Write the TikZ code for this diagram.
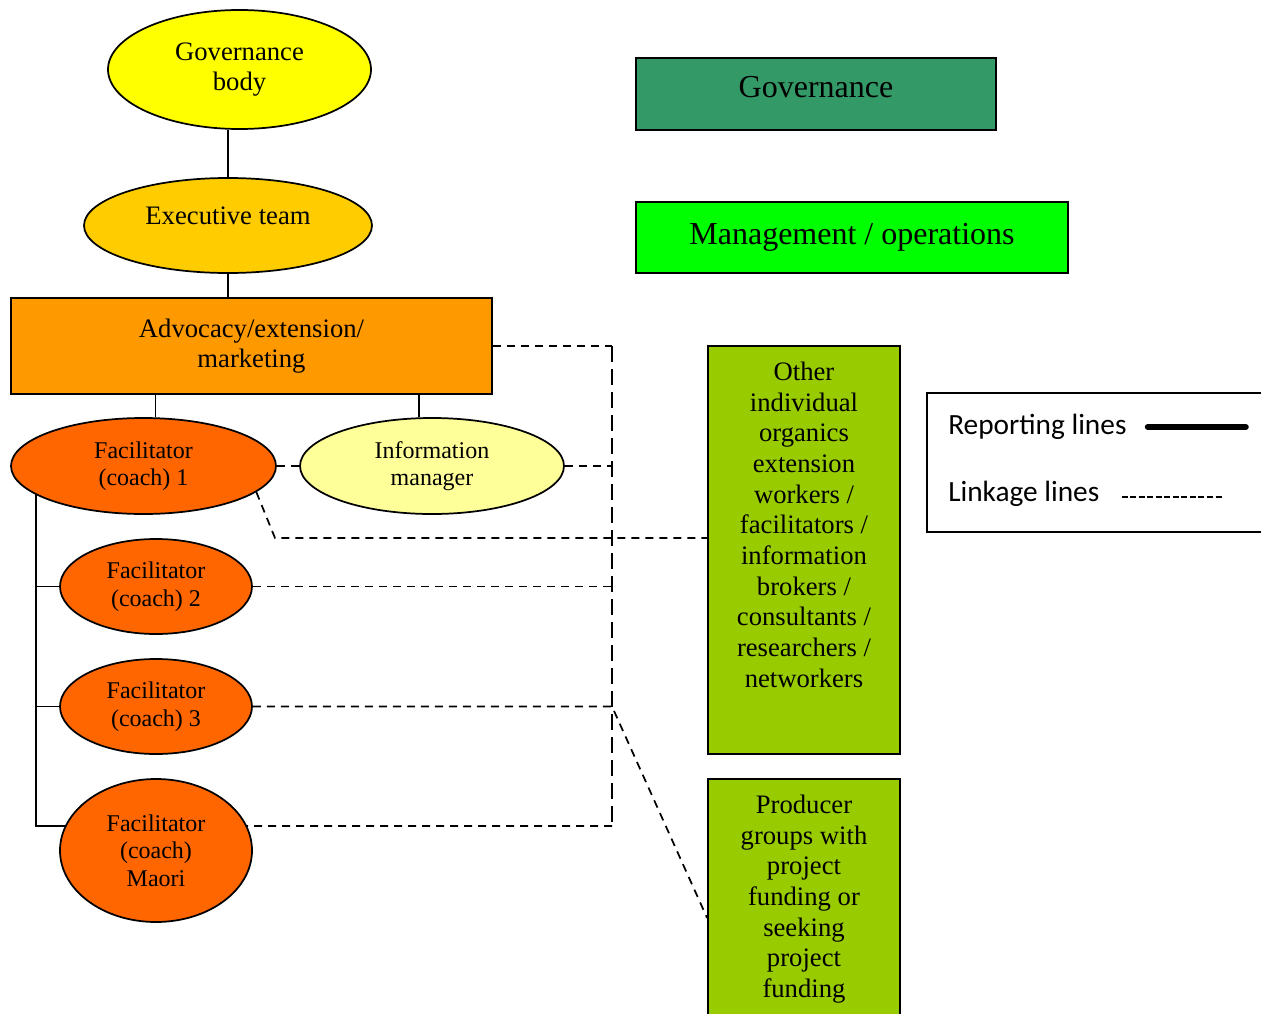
\documentclass[tikz,border=0pt]{standalone}
\usepackage{fontspec}
\setmainfont{Liberation Serif}
\newfontfamily\legendfont{Carlito}
\usetikzlibrary{shapes.geometric}
\definecolor{govyellow}{HTML}{FFFF00}
\definecolor{execgold}{HTML}{FFCC00}
\definecolor{advorange}{HTML}{FF9900}
\definecolor{facorange}{HTML}{FF6600}
\definecolor{infoyellow}{HTML}{FFFF99}
\definecolor{govgreen}{HTML}{339966}
\definecolor{mgmtgreen}{HTML}{00FF00}
\definecolor{olivebox}{HTML}{99CC00}
\tikzset{
  oval/.style={ellipse, draw, line width=1.3pt, inner sep=0pt, align=center},
  unit/.style={rectangle, draw, line width=1.3pt, inner sep=0pt, align=center},
  bigtext/.style={font=\fontsize{20}{23}\selectfont},
  smalltext/.style={font=\fontsize{18}{20.6}\selectfont},
  headtext/.style={font=\fontsize{24}{28}\selectfont},
  legendtext/.style={font=\legendfont\fontsize{22}{26}\selectfont, inner sep=0pt},
  report/.style={line width=1.3pt},
  link/.style={line width=1.3pt, dash pattern=on 6pt off 4.5pt},
  busline/.style={line width=1.3pt, dash pattern=on 12pt off 5.25pt}
}
\begin{document}
\begin{tikzpicture}[x=0.75pt, y=-0.75pt]
      \useasboundingbox (0,0) rectangle (1261,1014);
      \clip (0,0) rectangle (1261,1014);
      \node[oval, fill=govyellow, bigtext, minimum width=197.25pt, minimum height=89.25pt] (gov) at (239.5,69.5) {Governance\\body};
      \node[oval, fill=execgold, bigtext, minimum width=216pt, minimum height=71.25pt] (exec) at (228,225.5) {\raisebox{7pt}[\height][\depth]{Executive team}};
      \node[unit, fill=advorange, bigtext, minimum width=360.75pt, minimum height=72pt] (adv) at (251.5,346) {Advocacy/extension/\\marketing};
      \node[oval, fill=facorange, smalltext, minimum width=198.75pt, minimum height=72pt] (fac1) at (143.5,466) {Facilitator\\(coach) 1};
      \node[oval, fill=infoyellow, smalltext, minimum width=198pt, minimum height=72pt] (info) at (432,466) {Information\\manager};
      \node[oval, fill=facorange, smalltext, minimum width=144pt, minimum height=71.25pt] (fac2) at (156,586.5) {Facilitator\\(coach) 2};
      \node[oval, fill=facorange, smalltext, minimum width=144pt, minimum height=71.25pt] (fac3) at (156,706.5) {Facilitator\\(coach) 3};
      \node[oval, fill=facorange, smalltext, minimum width=144pt, minimum height=107.25pt] (facM) at (156,850.5) {Facilitator\\(coach)\\Maori};
      % key boxes
      \node[unit, fill=govgreen, headtext, minimum width=270pt, minimum height=54pt] (govkey) at (816,94) {\raisebox{5pt}[\height][\depth]{Governance}};
      \node[unit, fill=mgmtgreen, headtext, minimum width=324pt, minimum height=53.25pt] (mgmtkey) at (852,237.5) {Management / operations};
      % outside links
      \node[unit, fill=olivebox, bigtext] (other) at (804,550) {\parbox[c][306pt][t]{144pt}{\centering\vspace*{12pt}Other\\individual\\organics\\extension\\workers /\\facilitators /\\information\\brokers /\\consultants /\\researchers /\\networkers}};
      \node[unit, fill=olivebox, bigtext] (prod) at (804,918) {\parbox[c][208.5pt][t]{144pt}{\centering\vspace*{12pt}Producer\\groups with\\project\\funding or\\seeking\\project\\funding}};
      % legend
      \node[draw, line width=1pt, inner sep=0pt, minimum width=272.25pt, minimum height=104.25pt] (key) at (1108.5,462.5) {};
      \node[legendtext, anchor=base west] (rep) at (948,434) {Reporting lines};
      \node[legendtext, anchor=base west] (lnk) at (948,501) {Linkage lines};
      \draw[line width=4.5pt, line cap=round] ([shift={(21,-7)}]rep.base east) -- ++(98,0);
      \draw[line width=1pt, dash pattern=on 4.5pt off 1.9pt] ([shift={(22,-4)}]lnk.base east) -- ++(102,0);
      \coordinate (bus) at (612,826);
      \coordinate (bend) at (275,538);
      \begin{scope}[report]
        \draw (exec.north) -- (exec.north |- gov.south);
        \draw (exec.south) -- (exec.south |- adv.north);
        \draw (fac1.76) -- (fac1.76 |- adv.south);
        \draw (info.105) -- (info.105 |- adv.south);
        \draw (fac1.195) |- (facM.165);
        \draw (fac1.195 |- fac2.west) -- (fac2.west);
        \draw (fac1.195 |- fac3.west) -- (fac3.west);
      \end{scope}
      \begin{scope}[link]
        \draw (adv.east) -- (adv.east -| bus);
        \draw[busline] (adv.east -| bus) -- (bus);
        \draw (bus) -- (facM.15);
        \draw (fac1.east) -- (info.west);
        \draw (info.east) -- (info.east -| bus);
        \draw (fac2.east) -- (fac2.east -| bus);
        \draw (fac3.east) -- (fac3.east -| bus) -- (prod.west);
        \draw (fac1.-13) -- (bend) -- (bend -| other.west);
      \end{scope}
    \end{tikzpicture}
\end{document}
